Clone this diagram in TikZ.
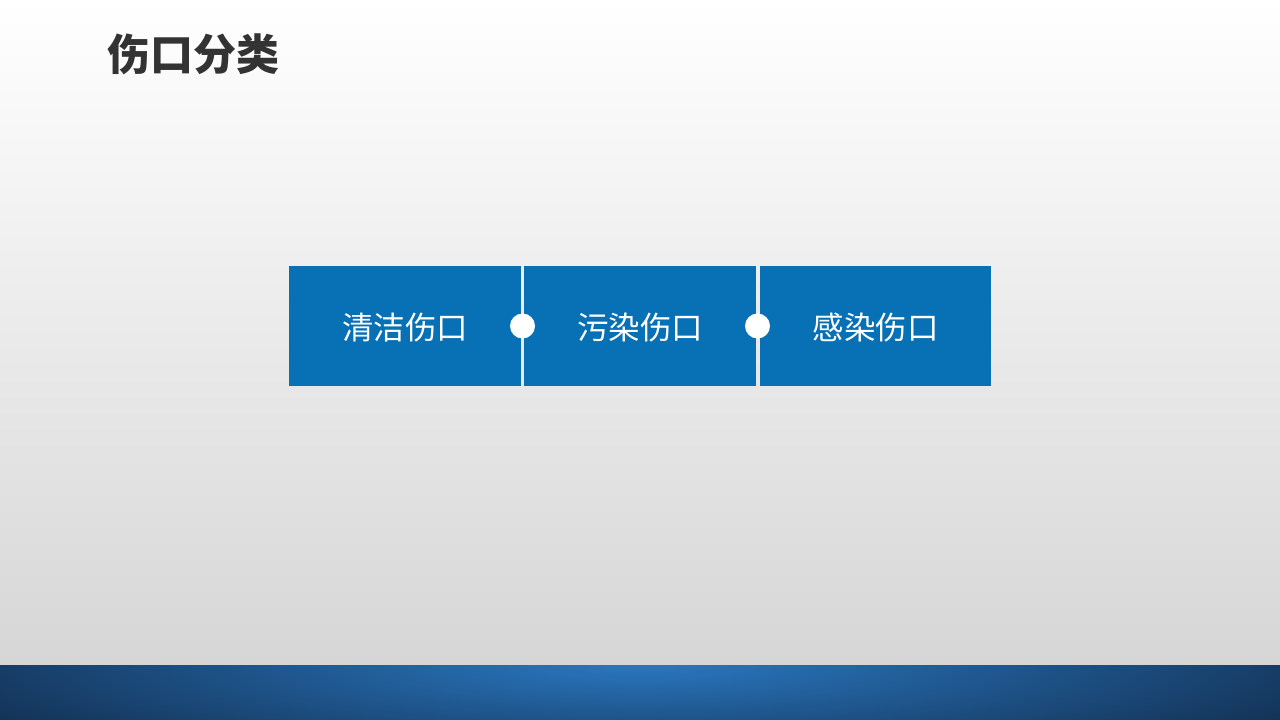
\documentclass[tikz,border=0pt]{standalone}
\usepackage{fontspec}
\setmainfont{Noto Sans CJK SC}
\usetikzlibrary{shapes.geometric}
\definecolor{boxblue}{HTML}{0870B5}
\definecolor{titlegray}{HTML}{333333}
\definecolor{bandlight}{HTML}{2A78C2}
\definecolor{banddark}{HTML}{0B1A30}
\definecolor{bgmid}{HTML}{F1F1F1}
\definecolor{bgbot}{HTML}{D6D6D6}
\tikzset{
  catbox/.style={rectangle, fill=boxblue, minimum height=120pt, inner sep=0pt, text=white, font=\fontsize{31.5}{36}\selectfont},
  joint/.style={circle, fill=white, minimum size=25pt, inner sep=0pt},
}
\newcommand{\lowtext}[1]{\raisebox{-2pt}[\height][\depth]{#1}}
\begin{document}
\begin{tikzpicture}[x=1pt,y=-1pt]
\useasboundingbox (0,0) rectangle (1280,720);
% background
\shade[top color=white, middle color=bgmid, bottom color=bgbot] (0,0) rectangle (1280,665);
% bottom band
\begin{scope}
\clip (0,665) rectangle (1280,720);
\fill[banddark] (0,665) rectangle (1280,720);
\shade[inner color=bandlight, outer color=banddark] (640,662) ellipse (1020 and 150);
\end{scope}
% title
\node[anchor=west, text=titlegray, font=\fontsize{43}{50}\selectfont\bfseries, inner sep=0pt] (title) at (107,54) {伤口分类};
% boxes
\node[catbox, minimum width=232pt] (b1) at (405,326) {\lowtext{清洁伤口}};
\node[catbox, minimum width=232pt] (b2) at (640,326) {\lowtext{污染伤口}};
\node[catbox, minimum width=231pt] (b3) at (875.5,326) {\lowtext{感染伤口}};
\node[joint] (j1) at (522.5,326) {};
\node[joint] (j2) at (757.5,326) {};
\end{tikzpicture}
\end{document}
